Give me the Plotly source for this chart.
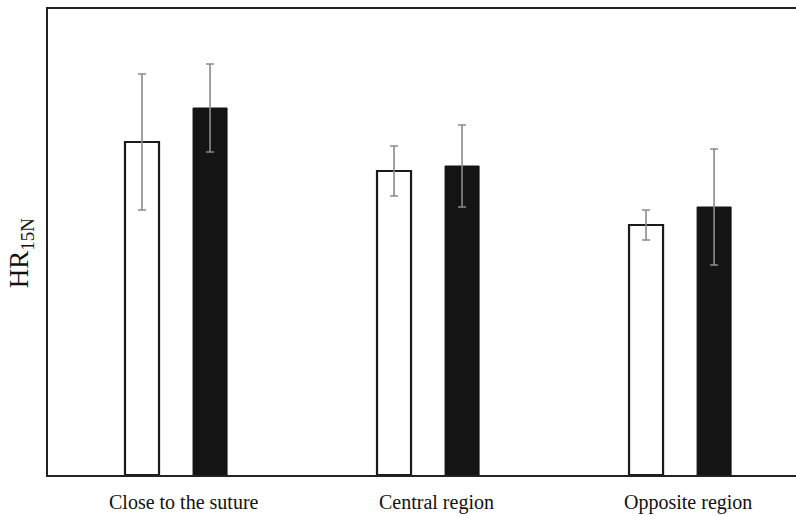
import plotly.graph_objects as go

categories = ["Close to the suture", "Central region", "Opposite region"]
series_a = [333, 304, 250]      # white bars
series_a_err = [68, 25, 15]
series_b = [367, 309, 268]      # black bars
series_b_err = [44, 41, 58]

fig = go.Figure()
fig.add_trace(go.Bar(
    x=categories, y=series_a,
    marker=dict(color="white", line=dict(color="#1a1a1a", width=2.2)),
    error_y=dict(type="data", array=series_a_err, color="#8a8a8a", thickness=1.6, width=4),
    showlegend=False,
))
fig.add_trace(go.Bar(
    x=categories, y=series_b,
    marker=dict(color="#141414", line=dict(color="#141414", width=1)),
    error_y=dict(type="data", array=series_b_err, color="#8a8a8a", thickness=1.6, width=4),
    showlegend=False,
))

label_font = dict(size=20, family="Liberation Serif, Times New Roman, serif", color="#111")
annotations = [dict(
    text=c, x=c, xref="x", y=0, yref="paper", yanchor="top", xanchor="center",
    yshift=-14, xshift=8, showarrow=False, font=label_font,
) for c in categories]
annotations.append(dict(
    text="HR<sub>15N</sub>", xref="paper", yref="paper",
    x=-0.036, y=0.476, xanchor="center", yanchor="middle",
    textangle=-90, showarrow=False,
    font=dict(size=27, family="Liberation Serif, serif", color="#111"),
))

fig.update_layout(
    width=796, height=516,
    margin=dict(l=48, r=0, t=9, b=41),
    paper_bgcolor="white", plot_bgcolor="white",
    barmode="group", bargap=0.46, bargroupgap=0.5,
    font=dict(family="Liberation Serif, Times New Roman, serif", color="#111", size=20),
    xaxis=dict(
        range=[-0.508, 2.46], showline=True, linecolor="#222", linewidth=2.2, mirror=True,
        showgrid=False, ticks="", showticklabels=False,
    ),
    yaxis=dict(
        range=[0, 466], showline=True, linecolor="#222", linewidth=2.2,
        showgrid=False, zeroline=False, showticklabels=False, ticks="",
    ),
    annotations=annotations,
)

fig.write_html("out.html")
